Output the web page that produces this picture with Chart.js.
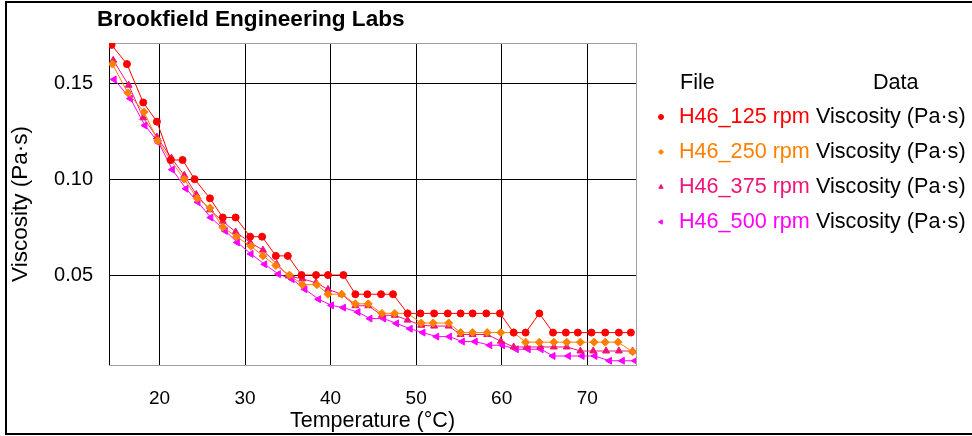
<!DOCTYPE html>
<html>
<head>
<meta charset="utf-8">
<script src="https://cdn.jsdelivr.net/npm/chart.js@4/dist/chart.umd.min.js"></script>
<style>
  body { margin: 0; background: #fff; }
  #wrap { width: 972px; height: 436px; }
</style>
</head>
<body>
<div id="wrap"><canvas id="viscChart" width="972" height="436"></canvas></div>
<script>
// Temperature (°C) and viscosity (Pa·s), one pair of arrays per spindle speed
const temp125 = [14.4, 16.2, 18.1, 19.7, 21.3, 22.7, 24.1, 25.9, 27.4, 28.9, 30.6, 32.0, 33.6, 35.0, 36.6, 38.3, 39.7, 41.5, 42.9, 44.3,
  45.9, 47.3, 49.0, 50.5, 52.1, 53.7, 55.2, 56.6, 58.2, 59.8, 61.4, 62.8, 64.4, 66.0, 67.5, 68.9, 70.5, 72.1, 73.7, 75.1];
const visc125 = [0.17, 0.16, 0.14, 0.13, 0.11, 0.11, 0.10, 0.09, 0.08, 0.08, 0.07, 0.07, 0.06, 0.06, 0.05, 0.05, 0.05, 0.05, 0.04, 0.04,
  0.04, 0.04, 0.03, 0.03, 0.03, 0.03, 0.03, 0.03, 0.03, 0.03, 0.02, 0.02, 0.03, 0.02, 0.02, 0.02, 0.02, 0.02, 0.02, 0.02];

const temp250 = [14.5, 16.3, 18.2, 19.8, 21.3, 22.9, 24.4, 25.9, 27.4, 29.0, 30.7, 32.1, 33.6, 35.2, 36.7, 38.4, 39.7, 41.3, 42.9, 44.4,
  46.0, 47.5, 49.0, 50.6, 52.0, 53.8, 55.2, 56.6, 58.3, 59.9, 61.4, 62.8, 64.4, 66.1, 67.6, 69.2, 70.8, 72.1, 73.6, 75.3];
const visc250 = [0.16, 0.145, 0.135, 0.12, 0.11, 0.10, 0.09, 0.085, 0.075, 0.07, 0.065, 0.06, 0.055, 0.05, 0.045, 0.045, 0.04, 0.04, 0.035, 0.035,
  0.03, 0.03, 0.03, 0.025, 0.025, 0.025, 0.02, 0.02, 0.02, 0.02, 0.02, 0.015, 0.015, 0.015, 0.015, 0.015, 0.015, 0.015, 0.015, 0.01];

const temp375 = [14.6, 16.4, 18.1, 19.7, 21.4, 22.9, 24.3, 25.9, 27.4, 28.9, 30.6, 32.1, 33.7, 35.1, 36.7, 38.3, 39.7, 41.3, 42.9, 44.4,
  46.0, 47.5, 49.0, 50.6, 52.1, 53.8, 55.2, 56.6, 58.3, 59.9, 61.4, 62.9, 64.5, 66.1, 67.6, 69.2, 70.7, 72.2, 73.7, 75.3];
const visc375 = [0.162, 0.149, 0.132, 0.122, 0.111, 0.102, 0.092, 0.084, 0.078, 0.0725, 0.067, 0.063, 0.0557, 0.0495, 0.048, 0.046, 0.0425, 0.040, 0.034, 0.034,
  0.029, 0.029, 0.0265, 0.0238, 0.0234, 0.0234, 0.019, 0.019, 0.019, 0.0155, 0.0125, 0.0125, 0.0125, 0.0125, 0.0125, 0.0104, 0.0104, 0.0104, 0.0104, 0.0104];

const temp500 = [14.7, 16.6, 18.3, 19.9, 21.5, 23.1, 24.5, 26.0, 27.7, 29.1, 30.7, 32.3, 33.9, 35.5, 37.0, 38.6, 40.1, 41.5, 43.2, 44.6,
  46.2, 47.7, 49.3, 50.8, 52.4, 53.9, 55.4, 56.9, 58.6, 60.1, 61.7, 63.1, 64.6, 66.0, 67.8, 69.4, 70.9, 72.6, 74.1, 75.6];
const visc500 = [0.152, 0.142, 0.128, 0.119, 0.105, 0.095, 0.088, 0.080, 0.073, 0.067, 0.061, 0.0556, 0.0505, 0.0478, 0.0426, 0.0374, 0.0342, 0.033, 0.0307, 0.0273,
  0.0273, 0.0248, 0.022, 0.020, 0.0179, 0.0179, 0.0153, 0.0153, 0.0134, 0.0134, 0.0113, 0.0113, 0.0113, 0.0078, 0.0078, 0.0078, 0.0078, 0.0053, 0.0053, 0.0053];

const fileNames = ["H46_125 rpm", "H46_250 rpm", "H46_375 rpm", "H46_500 rpm"];
const dataName = "Viscosity (Pa·s)";
const xTicks = [20, 30, 40, 50, 60, 70];
const yTicks = [0.05, 0.10, 0.15];

const FONT = '"Liberation Sans", Arial, sans-serif';

function toPoints(xs, ys) {
  return xs.map((x, i) => ({ x: x, y: ys[i] }));
}

function series(label, xs, ys, color, style, rotation, radius) {
  return {
    label: label,
    data: toPoints(xs, ys),
    borderColor: color,
    backgroundColor: color,
    borderWidth: 1,
    pointStyle: style,
    pointRotation: rotation,
    pointRadius: radius,
    pointBorderWidth: 1,
    tension: 0,
    fill: false,
  };
}

// white page, outer frame, title, plot frame and the two-column legend
const decor = {
  id: "decor",
  beforeDraw(chart) {
    const ctx = chart.ctx;
    ctx.save();
    ctx.fillStyle = "#fff";
    ctx.fillRect(0, 0, chart.width, chart.height);
    ctx.restore();
  },
  beforeDatasetsDraw(chart) {
    const ctx = chart.ctx;
    const a = chart.chartArea;
    ctx.save();
    ctx.strokeStyle = "#a0a0a0";
    ctx.lineWidth = 1;
    ctx.strokeRect(Math.round(a.left) + 0.5, Math.round(a.top) + 0.5, Math.round(a.right - a.left), Math.round(a.bottom - a.top));
    ctx.strokeStyle = "#000";
    ctx.beginPath();
    ctx.moveTo(Math.round(a.left) + 0.5, a.top);
    ctx.lineTo(Math.round(a.left) + 0.5, a.bottom);
    ctx.stroke();
    ctx.restore();
  },
  afterDraw(chart) {
    const ctx = chart.ctx;
    ctx.save();
    // outer frame
    ctx.strokeStyle = "#000";
    ctx.lineWidth = 2;
    ctx.strokeRect(6, 2, 1000, 432);

    // title
    ctx.fillStyle = "#000";
    ctx.font = "bold 22.6px " + FONT;
    ctx.textBaseline = "alphabetic";
    ctx.textAlign = "left";
    ctx.fillText("Brookfield Engineering Labs", 97, 26);

    // legend
    ctx.font = "21.6px " + FONT;
    ctx.textBaseline = "middle";
    ctx.fillText("File", 680, 83);
    ctx.fillText("Data", 873, 83);
    chart.data.datasets.forEach((ds, i) => {
      const y = 117 + i * 35;
      ctx.fillStyle = ds.borderColor;
      ctx.strokeStyle = ds.borderColor;
      ctx.lineWidth = 1;
      Chart.helpers.drawPoint(ctx, {
        pointStyle: ds.pointStyle,
        rotation: ds.pointRotation,
        radius: 2.5,
        borderWidth: 1,
      }, 661, y);
      ctx.fillStyle = ds.borderColor;
      ctx.fillText(fileNames[i], 679, y);
      ctx.fillStyle = "#000";
      ctx.fillText(dataName, 816, y);
    });
    ctx.restore();
  },
};

const ctx = document.getElementById("viscChart").getContext("2d");
const viscChart = new Chart(ctx, {
  type: "line",
  data: {
    datasets: [
      series(fileNames[0], temp125, visc125, "#ff0000", "circle", 0, 3.5),
      series(fileNames[1], temp250, visc250, "#ff8000", "rectRot", 0, 4),
      series(fileNames[2], temp375, visc375, "#f01478", "triangle", 0, 4),
      series(fileNames[3], temp500, visc500, "#ff00ff", "triangle", -90, 4),
    ],
  },
  options: {
    responsive: false,
    animation: false,
    devicePixelRatio: 1,
    layout: { padding: { top: 43, right: 336, bottom: 0, left: 0 } },
    plugins: {
      legend: { display: false },
      tooltip: { enabled: false },
    },
    scales: {
      x: {
        type: "linear",
        min: 14.1,
        max: 75.7,
        afterBuildTicks: (s) => { s.ticks = xTicks.map((v) => ({ value: v })); },
        afterFit: (s) => { s.height = 71; },
        grid: { color: "#000", lineWidth: 1, drawTicks: false },
        border: { display: true, color: "#888", width: 1 },
        ticks: {
          padding: 22,
          color: "#000",
          maxRotation: 0,
          autoSkip: false,
          font: { family: FONT, size: 19 },
        },
        title: {
          display: true,
          text: "Temperature (°C)",
          color: "#000",
          font: { family: FONT, size: 21.5 },
          padding: { top: 0, bottom: 2 },
        },
      },
      y: {
        type: "linear",
        min: 0.0031,
        max: 0.171,
        afterBuildTicks: (s) => { s.ticks = yTicks.map((v) => ({ value: v })); },
        afterFit: (s) => { s.width = 109; },
        grid: { color: "#000", lineWidth: 1, drawTicks: false },
        border: { display: true, color: "#000", width: 1 },
        ticks: {
          padding: 16,
          color: "#000",
          autoSkip: false,
          font: { family: FONT, size: 20 },
          callback: (v) => v.toFixed(2),
        },
        title: {
          display: true,
          text: "Viscosity (Pa·s)",
          color: "#000",
          font: { family: FONT, size: 22.5 },
          padding: { top: 7, bottom: 0 },
        },
      },
    },
  },
  plugins: [decor],
});
</script>
</body>
</html>
